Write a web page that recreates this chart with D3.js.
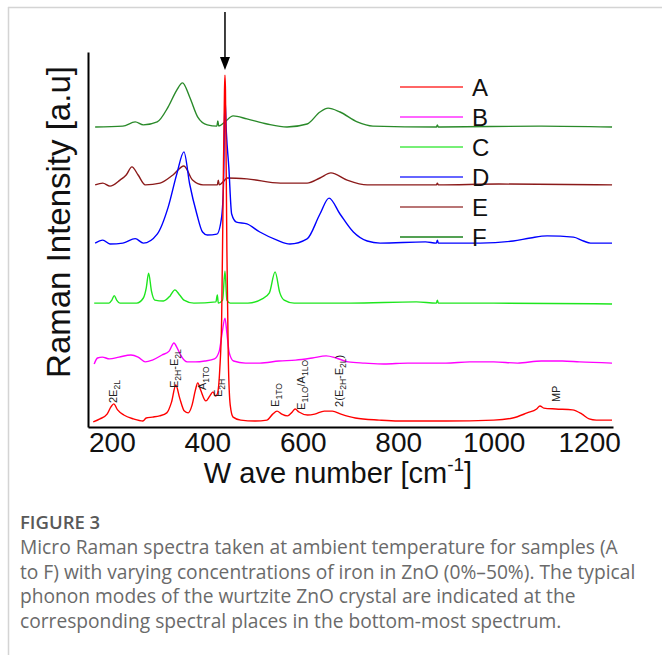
<!DOCTYPE html>
<html><head><meta charset="utf-8">
<script src="https://cdn.jsdelivr.net/npm/d3@7"></script>
<style>
body{margin:0;background:#fff;}
svg{display:block;}
</style></head><body>
<svg id="chart" width="662" height="655"></svg>
<script>
const seriesNames = ["A","B","C","D","E","F"];
const seriesColors = ["#ff0000","#ff00ff","#1ee61e","#0000ff","#8b1a1a","#2a8a2a"];
const xTicks = [200,400,600,800,1000,1200];

// [wavenumber (cm^-1), stacked intensity (a.u.)]
const specA = [[161,1.7],[175,2.7],[190,4.3],[198,6.7],[204,7.7],[212,5.7],[225,4.0],[245,2.7],[265,2.0],[272,3.0],[285,3.3],[300,3.7],[315,4.7],[325,8.3],[334,14.0],[342,9.7],[352,5.3],[360,4.7],[368,7.3],[375,12.3],[380,14.7],[386,12.3],[397,8.7],[405,10.3],[412,11.7],[417,10.3],[421,11.0],[426,19.0],[430,35.7],[433,75.7],[436,112.3],[437,117.3],[438,112.3],[441,59.0],[444,22.3],[448,7.3],[454,3.3],[470,2.3],[500,2.0],[525,2.3],[537,4.3],[546,5.3],[556,4.3],[568,3.7],[578,5.0],[584,6.0],[592,5.0],[610,4.0],[625,4.3],[645,5.3],[662,5.3],[680,4.3],[710,3.0],[760,2.3],[800,2.0],[900,2.0],[1000,2.3],[1040,3.0],[1070,4.7],[1090,6.0],[1097,7.0],[1105,6.3],[1130,6.0],[1165,5.7],[1185,4.3],[1200,2.7],[1215,2.3],[1248,2.3]];
const specB = [[163,21.0],[170,23.0],[180,23.3],[195,22.7],[215,23.3],[240,24.0],[255,23.3],[270,21.7],[285,22.3],[305,24.0],[320,25.3],[330,28.0],[337,26.3],[345,23.7],[358,21.7],[375,21.7],[395,22.0],[415,22.7],[425,25.3],[431,31.3],[437,36.3],[441,31.3],[446,24.7],[455,22.0],[480,21.3],[510,21.3],[550,22.0],[585,22.3],[620,23.0],[649,23.7],[670,23.0],[695,21.7],[730,21.3],[770,21.0],[820,21.3],[900,21.3],[950,21.7],[1000,21.7],[1050,21.3],[1100,22.0],[1144,22.0],[1180,21.7],[1248,21.3]];
const specC = [[163,41.3],[194,41.3],[200,42.3],[205,43.8],[210,42.3],[217,41.3],[252,41.3],[266,43.0],[272,46.3],[277,51.3],[283,45.3],[290,42.3],[308,42.0],[322,43.7],[332,45.7],[342,44.0],[351,42.3],[372,41.3],[418,41.7],[421,44.0],[423,41.3],[432,42.3],[437,52.0],[441,42.3],[448,41.3],[485,41.3],[515,42.7],[530,44.7],[542,51.7],[552,44.7],[561,42.3],[582,41.3],[700,41.3],[838,41.7],[880,41.3],[882,42.3],[884,41.3],[1000,41.3],[1248,41.0]];
const specD = [[165,61.3],[181,62.3],[196,61.0],[223,61.3],[249,62.8],[266,61.3],[295,64.3],[318,73.3],[336,84.3],[351,91.7],[363,81.0],[378,71.0],[390,65.0],[400,64.0],[420,64.3],[430,70.0],[434,81.3],[437,109.7],[440,98.0],[445,86.7],[451,71.0],[461,68.3],[483,67.7],[510,65.0],[546,62.3],[573,61.0],[609,62.7],[636,71.0],[655,76.3],[678,71.0],[706,65.0],[735,62.0],[762,61.3],[857,61.7],[880,61.3],[882,62.3],[884,61.3],[972,61.3],[1041,62.0],[1077,63.0],[1112,63.7],[1167,63.3],[1188,62.0],[1203,61.3],[1248,61.3]];
const specE = [[165,80.7],[181,81.3],[196,80.3],[217,82.3],[230,84.0],[242,86.7],[255,84.0],[270,80.7],[301,81.3],[328,84.0],[351,87.0],[369,82.3],[391,80.7],[421,80.7],[423,82.3],[425,80.7],[433,81.7],[442,83.0],[483,82.7],[553,81.3],[609,81.3],[636,83.0],[659,84.7],[693,82.3],[735,80.7],[880,80.7],[882,81.3],[884,80.7],[1011,81.0],[1248,80.7]];
const specF = [[165,100.0],[223,100.3],[249,101.7],[266,100.7],[295,101.7],[318,106.7],[336,112.3],[348,114.7],[363,110.0],[380,103.3],[400,100.7],[420,100.3],[422,102.0],[424,100.3],[437,101.7],[454,103.7],[483,102.7],[525,101.0],[567,100.0],[609,101.0],[636,105.0],[653,106.3],[678,105.0],[714,101.7],[747,100.3],[880,100.0],[882,100.7],[884,100.0],[1100,100.3],[1248,100.0]];
const spectra = [specA, specB, specC, specD, specE, specF];

// phonon mode labels on spectrum A: [wavenumber, intensity at label bottom, [text, isSub]...]
const modeLabels = [
  [202, 8.0, [["2E",0],["2L",1]]],
  [330, 13.0, [["E",0],["2H",1],["-E",0],["2L",1]]],
  [389, 12.3, [["A",0],["1TO",1]]],
  [423, 10.0, [["E",0],["2H",1]]],
  [542, 6.7, [["E",0],["1TO",1]]],
  [597, 5.7, [["E",0],["1LO",1],["/A",0],["1LO",1]]],
  [675, 6.7, [["2(E",0],["2H",1],["-E",0],["2L",1],[")",0]]],
  [1131, 8.3, [["MP",0]]]
];
const arrowWn = 437;

const captionTitle = "FIGURE 3";
const captionLines = [
  "Micro Raman spectra taken at ambient temperature for samples (A",
  "to F) with varying concentrations of iron in ZnO (0%\u201350%). The typical",
  "phonon modes of the wurtzite ZnO crystal are indicated at the",
  "corresponding spectral places in the bottom-most spectrum."
];

const svg = d3.select("#chart");
const FONT = "'Liberation Sans', Arial, Helvetica, sans-serif";
const CAPFONT = "'Open Sans', Lato, sans-serif";

// frame
svg.append("line").attr("x1",8).attr("x2",662).attr("y1",7.5).attr("y2",7.5).attr("stroke","#d4d4d4").attr("stroke-width",1.5);
svg.append("line").attr("x1",8.5).attr("x2",8.5).attr("y1",7).attr("y2",655).attr("stroke","#d4d4d4").attr("stroke-width",1.5);

const x = d3.scaleLinear().domain([150,1250]).range([88,613]);
const y = d3.scaleLinear().domain([0,125]).range([427,52]);

const line = d3.line().x(d=>x(d[0])).y(d=>y(d[1])).curve(d3.curveMonotoneX);

// draw F..A so that A is on top
for (let i = spectra.length-1; i>=0; i--) {
  svg.append("path").datum(spectra[i]).attr("d", line)
    .attr("fill","none").attr("stroke", seriesColors[i]).attr("stroke-width",1.4).attr("stroke-linejoin","round");
}

// axes
const xAxis = d3.axisBottom(x).tickValues(xTicks).tickSize(0).tickPadding(5).tickFormat(d3.format("d"));
const gx = svg.append("g").attr("transform","translate(0,427)").call(xAxis);
gx.select(".domain").attr("stroke","#000").attr("stroke-width",2);
gx.selectAll("text").attr("font-family",FONT).attr("font-size",28).attr("fill","#111").attr("dy","0.71em");
const gy = svg.append("g").attr("transform","translate(88,0)").call(d3.axisLeft(y).tickValues([]).tickSize(0));
gy.select(".domain").attr("stroke","#000").attr("stroke-width",2);

// axis titles
const xt = svg.append("text").attr("x",338).attr("y",483).attr("text-anchor","middle")
  .attr("font-family",FONT).attr("font-size",29).attr("fill","#111");
xt.append("tspan").text("W ave number [cm");
xt.append("tspan").attr("font-size",19).attr("dy",-12).text("-1");
xt.append("tspan").attr("dy",12).text("]");
svg.append("text").attr("transform","translate(70,222) rotate(-90)").attr("text-anchor","middle")
  .attr("font-family",FONT).attr("font-size",33).attr("fill","#111").text("Raman Intensity [a.u]");

// mode labels
modeLabels.forEach(([wn, v, parts]) => {
  const t = svg.append("text").attr("transform",`translate(${x(wn)+4},${y(v)}) rotate(-90)`)
    .attr("font-family",FONT).attr("font-size",11).attr("fill","#222");
  let prevSub = 0;
  parts.forEach(([s, sub]) => {
    const ts = t.append("tspan").text(s);
    if (sub) ts.attr("font-size",8.5);
    if (sub !== prevSub) ts.attr("dy", sub ? 3 : -3);
    prevSub = sub;
  });
});

// arrow
const ax = x(arrowWn);
svg.append("line").attr("x1",ax).attr("x2",ax).attr("y1",12).attr("y2",60).attr("stroke","#000").attr("stroke-width",1.5);
svg.append("path").attr("d",`M${ax-5},${57}L${ax+5},${57}L${ax},${70}Z`).attr("fill","#000");

// legend
seriesNames.forEach((n,i) => {
  const ly = 87 + 30*i;
  svg.append("line").attr("x1",400).attr("x2",463).attr("y1",ly).attr("y2",ly)
    .attr("stroke",seriesColors[i]).attr("stroke-width", i===5?2.2:1.6).attr("opacity",0.8);
  svg.append("text").attr("x",472).attr("y",ly+8.5).attr("font-family",FONT).attr("font-size",24).attr("fill","#111").text(n);
});

// caption
svg.append("text").attr("x",20).attr("y",529).attr("font-family",CAPFONT)
  .attr("font-size",18.5).attr("font-weight",600).attr("fill","#595959").text(captionTitle);
captionLines.forEach((s,i) => {
  svg.append("text").attr("x",20).attr("y",554+24.5*i).attr("font-family",CAPFONT)
    .attr("font-size",19.2).attr("fill","#6a6a6a").text(s);
});
</script>
</body></html>
